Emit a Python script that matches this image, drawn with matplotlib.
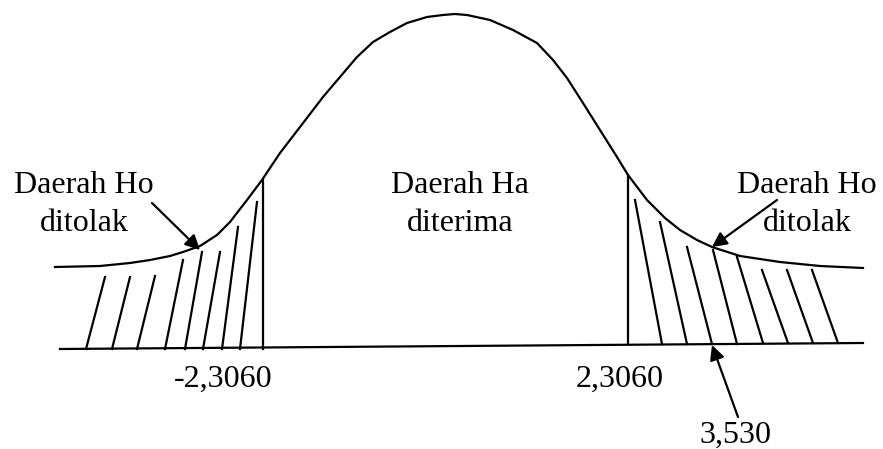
"""
Two-tailed t test sketch: acceptance / rejection regions.
"""

import matplotlib
matplotlib.use("Agg")
import matplotlib.pyplot as plt

# Curve outline (pixel-like units, y grows downward)
curve_x = [55, 100, 130, 150, 170, 183, 200, 217, 230, 247, 262, 280, 300,
           323, 340, 357, 373, 390, 407, 427, 443, 455, 467, 490, 513, 537,
           553, 567, 583, 600, 617, 628, 647, 665, 680, 697, 712, 740, 780,
           820, 863]
curve_y = [267, 266, 263, 260, 256, 252, 246, 235, 222, 200, 180, 153, 127,
           97, 77, 57, 42, 32, 23, 17, 15, 14, 15, 20, 30, 43,
           60, 78, 103, 130, 157, 175, 200, 218, 230, 240, 247, 256, 262,
           266, 268]

# Baseline (slightly tilted in the scan)
base_x = [60, 863]
base_y = [349, 343]

# Critical-value verticals: x, top, bottom
crit_x = [263, 628]
crit_top = [180, 175]
crit_bottom = [349, 344]

# Hatching in the left tail (top point -> bottom point)
left_top_x = [105, 130, 155, 183, 202, 220, 238, 257]
left_top_y = [277, 277, 276, 260, 252, 252, 227, 202]
left_bot_x = [86, 112, 137, 165, 185, 203, 222, 240]
left_bot_y = [349, 349, 349, 349, 349, 349, 349, 349]

# Hatching in the right tail
right_top_x = [635, 660, 687, 713, 737, 762, 787, 812]
right_top_y = [200, 222, 247, 250, 257, 270, 270, 270]
right_bot_x = [662, 687, 712, 737, 763, 788, 813, 838]
right_bot_y = [344, 344, 344, 344, 343, 343, 343, 343]

# Labels (y is the baseline of the last line)
region_labels = ["Daerah Ho\nditolak", "Daerah Ha\nditerima", "Daerah Ho\nditolak"]
region_x = [84, 460, 807]
region_y = [231, 231, 231]
tick_labels = ["-2,3060", "2,3060", "3,530"]
tick_x = [223, 620, 735]
tick_y = [387, 387, 443]

# Arrows: tail -> head
arrow_tail = [(152, 203), (777, 200), (738, 417)]
arrow_head = [(200, 250), (712, 247), (712, 345)]

plt.rcParams["font.family"] = ["Liberation Serif", "DejaVu Serif"]

fig = plt.figure(figsize=(8.83, 4.49), dpi=100)
ax = fig.add_axes([0, 0, 1, 1])
ax.set_xlim(0, 883)
ax.set_ylim(449, 0)
ax.axis("off")

lw = 1.6
ax.plot(curve_x, curve_y, color="black", lw=lw, solid_joinstyle="round")
ax.plot(base_x, base_y, color="black", lw=lw)
for x, t, b in zip(crit_x, crit_top, crit_bottom):
    ax.plot([x, x], [t, b], color="black", lw=lw)

for tx, ty, bx, by in zip(left_top_x, left_top_y, left_bot_x, left_bot_y):
    ax.plot([tx, bx], [ty, by], color="black", lw=lw)
for tx, ty, bx, by in zip(right_top_x, right_top_y, right_bot_x, right_bot_y):
    ax.plot([tx, bx], [ty, by], color="black", lw=lw)

for label, x, y in zip(region_labels, region_x, region_y):
    ax.text(x, y, label, ha="center", va="baseline", fontsize=23,
            linespacing=1.4, multialignment="center")

for label, x, y in zip(tick_labels, tick_x, tick_y):
    ax.text(x, y, label, ha="center", va="baseline", fontsize=23)

for tail, head in zip(arrow_tail, arrow_head):
    ax.annotate("", xy=head, xytext=tail,
                arrowprops=dict(arrowstyle="-|>", color="black", lw=lw,
                                mutation_scale=22, shrinkA=0, shrinkB=0))

fig.savefig("out.png", dpi=100)
